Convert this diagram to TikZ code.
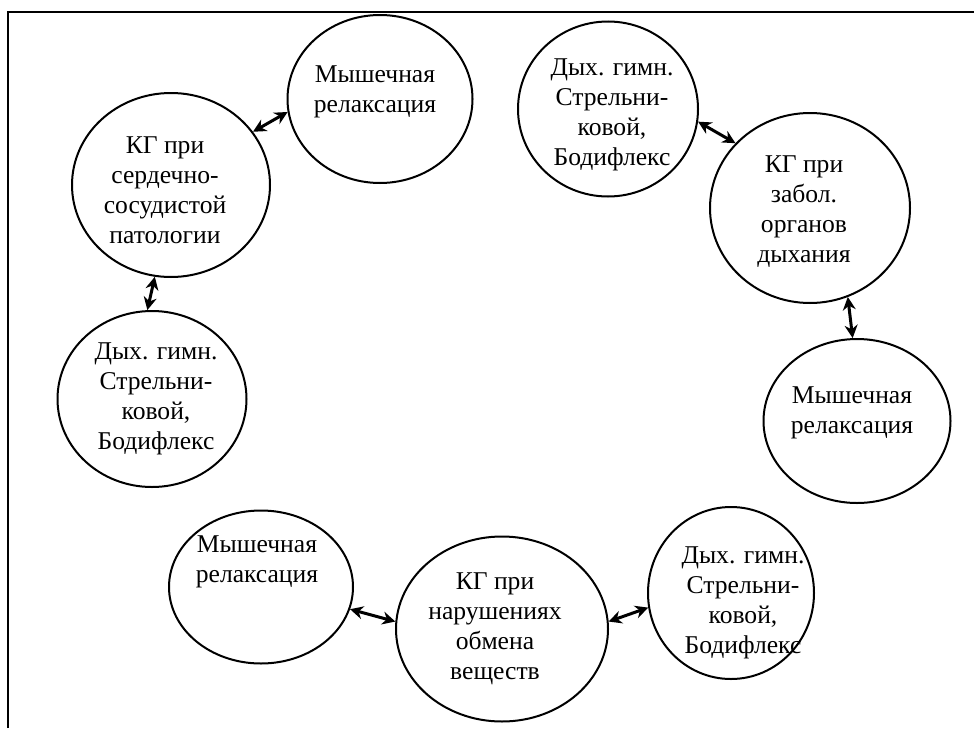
\documentclass[tikz,border=0pt]{standalone}
\usepackage{fontspec}
\setmainfont{Liberation Serif}
\usetikzlibrary{arrows.meta, shapes.geometric}

\begin{document}
\begin{tikzpicture}[
  x=0.5pt, y=-0.5pt,
  oval/.style={ellipse, draw, line width=1pt, inner sep=0pt},
  txt/.style={align=center, inner sep=0pt,
              font=\fontsize{12.8}{15}\selectfont},
  arr/.style={{Stealth[length=6.5pt, width=6.5pt]}-{Stealth[length=6.5pt, width=6.5pt]},
              line width=1.5pt},
]
  \useasboundingbox (0,0) rectangle (974,728);
  \draw[line width=1.3pt] (8,728) -- (8,12) -- (974,12);

  % ovals
  \node[oval, minimum width=92.5pt, minimum height=84pt] (e1) at (380,99) {};
  \node[oval, minimum width=90pt, minimum height=87.5pt] (e2) at (608,109) {};
  \node[oval, minimum width=99pt, minimum height=92pt] (e3) at (171,185) {};
  \node[oval, minimum width=100pt, minimum height=95pt] (e4) at (810,208) {};
  \node[oval, minimum width=94.5pt, minimum height=88pt] (e5) at (152,399) {};
  \node[oval, minimum width=93.5pt, minimum height=82pt] (e6) at (857,421) {};
  \node[oval, minimum width=92pt, minimum height=76.5pt] (e7) at (261,587) {};
  \node[oval, minimum width=106pt, minimum height=92.5pt] (e8) at (502,629) {};
  \node[oval, minimum width=83pt, minimum height=86pt] (e9) at (731,593) {};

  % texts
  \node[txt] (t1) at (375,92) {Мышечная\\релаксация};
  \node[txt] (t2) at (612,115) {Дых. гимн.\\Стрельни-\\ковой,\\Бодифлекс};
  \node[txt] (t3) at (165,190) {КГ при\\сердечно-\\сосудистой\\патологии};
  \node[txt] (t4) at (804,212) {КГ при\\забол.\\органов\\дыхания};
  \node[txt] (t5) at (156,399) {Дых. гимн.\\Стрельни-\\ковой,\\Бодифлекс};
  \node[txt] (t6) at (852,413) {Мышечная\\релаксация};
  \node[txt] (t7) at (257,562) {Мышечная\\релаксация};
  \node[txt] (t8) at (495,629) {КГ при\\нарушениях\\обмена\\веществ};
  \node[txt] (t9) at (743,603) {Дых. гимн.\\Стрельни-\\ковой,\\Бодифлекс};

  % links
  \draw[arr] (e3.33) -- (e1.188);
  \draw[arr] (e2.352) -- (e4.139);
  \draw[arr] (e3.260) -- (e5.93);
  \draw[arr] (e4.293) -- (e6.93);
  \draw[arr] (e7.346) -- (e8.176);
  \draw[arr] (e8.4) -- (e9.190);
\end{tikzpicture}
\end{document}
